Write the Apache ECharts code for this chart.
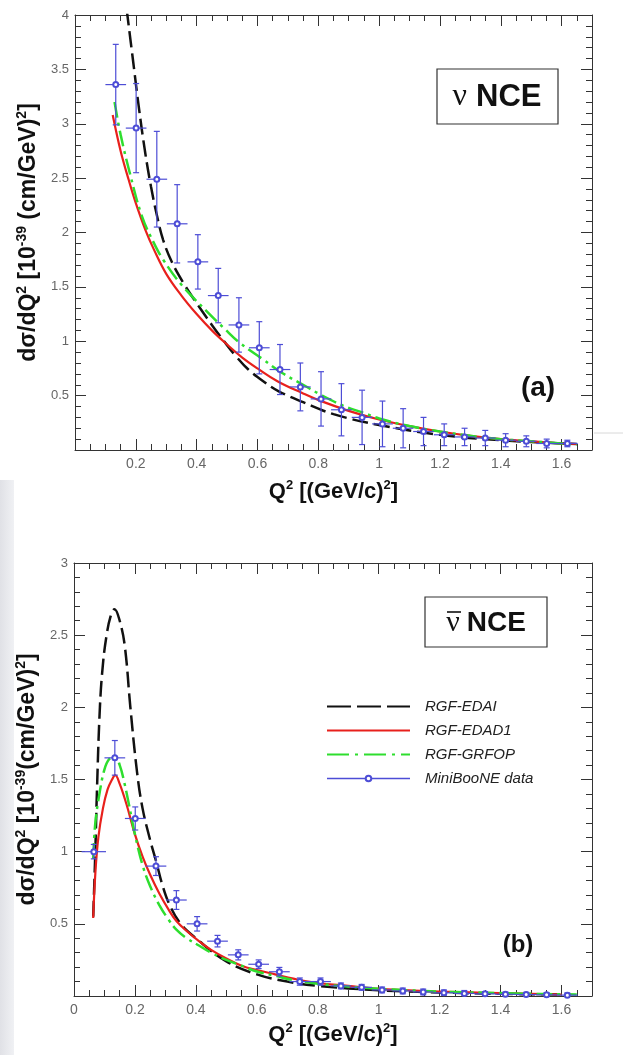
<!DOCTYPE html>
<html lang="en">
<head>
<meta charset="UTF-8">
<title>NCE cross sections</title>
<script src="https://cdn.jsdelivr.net/npm/echarts@6/dist/echarts.min.js"></script>
<style>
    html, body { margin: 0; padding: 0; background: #fff; }
    #chart { width: 623px; height: 1055px; }
</style>
</head>
<body>
<div id="chart"></div>
<script>
    // ---------- (a) neutrino NCE ----------
    var nuQ2   = [0.134, 0.201, 0.269, 0.336, 0.404, 0.471, 0.539, 0.606, 0.674, 0.741, 0.809, 0.876,
                  0.944, 1.011, 1.079, 1.146, 1.214, 1.281, 1.349, 1.416, 1.484, 1.551, 1.619];
    var nuData = [3.36, 2.96, 2.49, 2.08, 1.73, 1.42, 1.15, 0.94, 0.74, 0.58, 0.47, 0.37,
                  0.30, 0.24, 0.20, 0.17, 0.14, 0.12, 0.11, 0.09, 0.08, 0.06, 0.06];
    var nuErr  = [0.37, 0.41, 0.44, 0.36, 0.25, 0.25, 0.25, 0.24, 0.23, 0.22, 0.25, 0.24,
                  0.25, 0.21, 0.18, 0.13, 0.10, 0.08, 0.07, 0.06, 0.05, 0.04, 0.03];
    var nuHalf = [0.034, 0.034, 0.034, 0.034, 0.034, 0.034, 0.034, 0.034, 0.034, 0.034, 0.034, 0.034,
                  0.034, 0.034, 0.034, 0.034, 0.034, 0.034, 0.034, 0.034, 0.034, 0.034, 0.034];

    var nuEdaiQ2  = [0.17, 0.19, 0.21, 0.23, 0.25, 0.27, 0.29, 0.32, 0.36, 0.4, 0.45, 0.49, 0.53, 0.57, 0.62, 0.67, 0.75, 0.85, 1.0, 1.2, 1.4, 1.6, 1.65];
    var nuEdai    = [4.05, 3.6, 3.15, 2.75, 2.42, 2.15, 1.93, 1.72, 1.52, 1.35, 1.15, 1.0, 0.86, 0.74, 0.63, 0.54, 0.44, 0.33, 0.23, 0.14, 0.09, 0.06, 0.055];
    var nuEdad1Q2 = [0.124, 0.15, 0.177, 0.2, 0.232, 0.26, 0.3, 0.35, 0.4, 0.45, 0.5, 0.55, 0.6, 0.667, 0.75, 0.8, 0.9, 1.0, 1.1, 1.2, 1.3, 1.4, 1.5, 1.6, 1.65];
    var nuEdad1   = [3.08, 2.75, 2.48, 2.27, 2.02, 1.84, 1.62, 1.42, 1.25, 1.1, 0.97, 0.85, 0.75, 0.63, 0.52, 0.46, 0.36, 0.28, 0.22, 0.17, 0.13, 0.1, 0.08, 0.06, 0.055];
    var nuGrfopQ2 = [0.13, 0.15, 0.18, 0.22, 0.26, 0.29, 0.35, 0.435, 0.49, 0.54, 0.62, 0.68, 0.75, 0.8, 0.88, 0.95, 1.0, 1.1, 1.2, 1.3, 1.4, 1.5, 1.6, 1.65];
    var nuGrfop   = [3.2, 2.9, 2.55, 2.15, 1.9, 1.75, 1.52, 1.27, 1.12, 0.99, 0.83, 0.71, 0.6, 0.52, 0.41, 0.34, 0.29, 0.22, 0.17, 0.13, 0.1, 0.08, 0.06, 0.05];

    // ---------- (b) antineutrino NCE ----------
    var nbQ2   = [0.065, 0.134, 0.201, 0.269, 0.336, 0.404, 0.471, 0.539, 0.606, 0.674, 0.741, 0.809,
                  0.876, 0.944, 1.011, 1.079, 1.146, 1.214, 1.281, 1.349, 1.416, 1.484, 1.551, 1.619];
    var nbData = [1.0, 1.65, 1.23, 0.9, 0.665, 0.5, 0.38, 0.285, 0.22, 0.168, 0.1, 0.1,
                  0.07, 0.06, 0.042, 0.035, 0.028, 0.022, 0.018, 0.015, 0.012, 0.01, 0.008, 0.006];
    var nbErr  = [0.05, 0.12, 0.08, 0.065, 0.065, 0.05, 0.04, 0.035, 0.03, 0.03, 0.025, 0.025,
                  0.02, 0.02, 0.02, 0.02, 0.02, 0.02, 0.02, 0.015, 0.015, 0.015, 0.015, 0.015];
    var nbHalf = [0.04, 0.034, 0.034, 0.034, 0.034, 0.034, 0.034, 0.034, 0.034, 0.034, 0.034, 0.034,
                  0.034, 0.034, 0.034, 0.034, 0.034, 0.034, 0.034, 0.034, 0.034, 0.034, 0.034, 0.034];

    var nbEdaiQ2  = [0.063, 0.07, 0.075, 0.085, 0.095, 0.107, 0.12, 0.133, 0.15, 0.167, 0.185, 0.207, 0.225, 0.25, 0.27, 0.29, 0.314, 0.35, 0.4, 0.5, 0.6, 0.7, 0.8, 1.0, 1.2, 1.4, 1.6];
    var nbEdai    = [0.55, 1.0, 1.4, 2.0, 2.3, 2.5, 2.63, 2.68, 2.6, 2.42, 2.0, 1.55, 1.3, 1.08, 0.93, 0.77, 0.63, 0.5, 0.4, 0.24, 0.15, 0.1, 0.07, 0.04, 0.025, 0.015, 0.01];
    var nbEdad1Q2 = [0.063, 0.07, 0.08, 0.095, 0.11, 0.125, 0.135, 0.15, 0.172, 0.2, 0.226, 0.25, 0.28, 0.31, 0.336, 0.37, 0.41, 0.45, 0.5, 0.55, 0.6, 0.66, 0.72, 0.8, 0.9, 1.0, 1.1, 1.2, 1.3, 1.4, 1.5, 1.6];
    var nbEdad1   = [0.54, 0.85, 1.1, 1.3, 1.43, 1.5, 1.53, 1.47, 1.33, 1.12, 0.96, 0.84, 0.71, 0.6, 0.52, 0.45, 0.38, 0.32, 0.26, 0.21, 0.18, 0.15, 0.12, 0.09, 0.07, 0.05, 0.04, 0.03, 0.025, 0.02, 0.015, 0.01];
    var nbGrfopQ2 = [0.063, 0.07, 0.085, 0.1, 0.115, 0.134, 0.15, 0.165, 0.18, 0.2, 0.226, 0.25, 0.28, 0.31, 0.336, 0.37, 0.41, 0.45, 0.5, 0.55, 0.6, 0.66, 0.72, 0.8, 0.9, 1.0, 1.1, 1.2, 1.3, 1.4, 1.5, 1.6, 1.65];
    var nbGrfop   = [0.95, 1.2, 1.42, 1.57, 1.64, 1.66, 1.6, 1.48, 1.33, 1.12, 0.9, 0.76, 0.63, 0.53, 0.46, 0.4, 0.35, 0.3, 0.25, 0.21, 0.17, 0.14, 0.11, 0.085, 0.065, 0.05, 0.04, 0.03, 0.025, 0.02, 0.015, 0.012, 0.01];

    var xTicks = { min: 0, max: 1.7, interval: 0.2 };

    var BLACK = '#111111', RED = '#e8201c', GREEN = '#2ede2e', BLUE = '#4d4dd6';
    var FONT = '"Liberation Sans", Arial, sans-serif';

    function pairs(xs, ys) {
        return xs.map(function (x, i) { return [x, ys[i]]; });
    }
    function points(xs, ys, es, hs) {
        return xs.map(function (x, i) { return [x, ys[i], es[i], hs[i]]; });
    }

    function curve(name, xs, ys, color, dash, width, gi) {
        return {
            name: name, type: 'line', xAxisIndex: gi * 2, yAxisIndex: gi * 2,
            data: pairs(xs, ys), symbol: 'none', smooth: 0.4,
            clip: true, z: 3,
            lineStyle: { color: color, width: width, type: dash },
            itemStyle: { color: color }
        };
    }

    function errRender(params, api) {
        var x = api.value(0), y = api.value(1), e = api.value(2), h = api.value(3);
        var c = api.coord([x, y]);
        var t = api.coord([x, y + e]);
        var b = api.coord([x, Math.max(y - e, 0)]);
        var l = api.coord([x - h, y]);
        var r = api.coord([x + h, y]);
        var st = { stroke: BLUE, lineWidth: 1.2 };
        return {
            type: 'group',
            children: [
                { type: 'line', shape: { x1: c[0], y1: t[1], x2: c[0], y2: b[1] }, style: st },
                { type: 'line', shape: { x1: l[0], y1: c[1], x2: r[0], y2: c[1] }, style: st },
                { type: 'line', shape: { x1: c[0] - 3, y1: t[1], x2: c[0] + 3, y2: t[1] }, style: st },
                { type: 'line', shape: { x1: c[0] - 3, y1: b[1], x2: c[0] + 3, y2: b[1] }, style: st }
            ]
        };
    }

    function dataSeries(xs, ys, es, hs, gi) {
        return [{
            type: 'custom', xAxisIndex: gi * 2, yAxisIndex: gi * 2, clip: true, z: 4,
            renderItem: errRender, data: points(xs, ys, es, hs)
        }, {
            name: 'MiniBooNE data', type: 'line', xAxisIndex: gi * 2, yAxisIndex: gi * 2,
            data: pairs(xs, ys), symbol: 'emptyCircle', symbolSize: 5, showSymbol: true,
            lineStyle: { opacity: 0 }, itemStyle: { color: BLUE, borderWidth: 1.2 }, z: 5
        }];
    }

    var tickStyle = { color: '#333', width: 1 };
    var nameRich = {
        m: { fontSize: 23, fontWeight: 'bold', fontFamily: FONT, color: '#111', lineHeight: 26 },
        s: { fontSize: 14, fontWeight: 'bold', fontFamily: FONT, color: '#111', lineHeight: 14, verticalAlign: 'top' }
    };
    var xNameRich = {
        m: { fontSize: 22, fontWeight: 'bold', fontFamily: FONT, color: '#111', lineHeight: 26 },
        s: { fontSize: 13, fontWeight: 'bold', fontFamily: FONT, color: '#111', lineHeight: 14, verticalAlign: 'top' }
    };

    function frameAxis(base) {
        base.axisLine = { show: true, onZero: false, lineStyle: tickStyle };
        base.axisTick = { show: true, inside: true, length: 11, lineStyle: tickStyle };
        base.splitLine = { show: false };
        return base;
    }

    function xAxes(gi, showZero, gap) {
        return [frameAxis({
            type: 'value', gridIndex: gi, position: 'bottom',
            min: xTicks.min, max: xTicks.max, interval: xTicks.interval,
            minorTick: { show: true, splitNumber: 4, length: 6, lineStyle: tickStyle },
            axisLabel: {
                color: '#666', fontSize: 14, fontFamily: FONT, margin: 7, showMaxLabel: false,
                formatter: function (v) { return (v === 0 && !showZero) ? '' : String(+v.toFixed(1)); }
            },
            name: '{m|Q}{s|2}{m| [(GeV/c)}{s|2}{m|]}', nameLocation: 'middle', nameGap: gap,
            nameTextStyle: { rich: xNameRich }
        }), frameAxis({
            type: 'value', gridIndex: gi, position: 'top',
            min: xTicks.min, max: xTicks.max, interval: xTicks.interval,
            minorTick: { show: true, splitNumber: 4, length: 6, lineStyle: tickStyle },
            axisLabel: { show: false }
        })];
    }

    function yAxes(gi, max, name) {
        return [frameAxis({
            type: 'value', gridIndex: gi, position: 'left', min: 0, max: max, interval: 0.5,
            minorTick: { show: true, splitNumber: 5, length: 6, lineStyle: tickStyle },
            axisLabel: {
                color: '#666', fontSize: 13, fontFamily: FONT, margin: 6,
                formatter: function (v) { return v === 0 ? '' : String(v); }
            },
            name: name, nameLocation: 'middle', nameGap: 26,
            nameTextStyle: { rich: nameRich }
        }), frameAxis({
            type: 'value', gridIndex: gi, position: 'right', min: 0, max: max, interval: 0.5,
            minorTick: { show: true, splitNumber: 5, length: 6, lineStyle: tickStyle },
            axisLabel: { show: false }
        })];
    }

    var series = [].concat(
        curve('RGF-EDAI', nuEdaiQ2, nuEdai, BLACK, [16, 6], 2.5, 0),
        curve('RGF-EDAD1', nuEdad1Q2, nuEdad1, RED, 'solid', 2.2, 0),
        curve('RGF-GRFOP', nuGrfopQ2, nuGrfop, GREEN, [16, 5, 3, 5], 2.5, 0),
        dataSeries(nuQ2, nuData, nuErr, nuHalf, 0),
        curve('RGF-EDAI', nbEdaiQ2, nbEdai, BLACK, [16, 6], 2.5, 1),
        curve('RGF-EDAD1', nbEdad1Q2, nbEdad1, RED, 'solid', 2.2, 1),
        curve('RGF-GRFOP', nbGrfopQ2, nbGrfop, GREEN, [16, 5, 3, 5], 2.5, 1),
        dataSeries(nbQ2, nbData, nbErr, nbHalf, 1)
    );

    var legendText = { fontSize: 15, fontStyle: 'italic', fontFamily: FONT, color: '#222', padding: [0, 0, 0, 10] };
    var noMark = { opacity: 0 };

    var chart = echarts.init(document.getElementById('chart'), null, { renderer: 'canvas' });
    chart.setOption({
        backgroundColor: '#ffffff',
        animation: false,
        grid: [
            { left: 75, top: 15, width: 517, height: 435 },
            { left: 74, top: 563, width: 518, height: 433 }
        ],
        xAxis: xAxes(0, false, 29).concat(xAxes(1, true, 26)),
        yAxis: yAxes(0, 4, '{m|dσ/dQ}{s|2}{m| [10}{s|-39}{m| (cm/GeV)}{s|2}{m|]}')
            .concat(yAxes(1, 3, '{m|dσ/dQ}{s|2}{m| [10}{s|-39}{m|(cm/GeV)}{s|2}{m|]}')),
        legend: {
            orient: 'vertical', left: 326, top: 699, padding: 0,
            itemWidth: 83, itemHeight: 7, itemGap: 9,
            textStyle: legendText, selectedMode: false,
            data: [
                { name: 'RGF-EDAI', lineStyle: { type: [24, 6] }, itemStyle: noMark },
                { name: 'RGF-EDAD1', itemStyle: noMark },
                { name: 'RGF-GRFOP', lineStyle: { type: [22, 6, 3, 6] }, itemStyle: noMark },
                { name: 'MiniBooNE data', lineStyle: { opacity: 1, width: 1.5, color: BLUE } }
            ]
        },
        graphic: [
            {
                type: 'rect', left: 0, top: 480, z: -10,
                shape: { width: 14, height: 575 },
                style: { fill: new echarts.graphic.LinearGradient(0, 0, 1, 0, [
                    { offset: 0, color: '#e0e1e6' }, { offset: 1, color: '#f0f1f4' }]) }
            },
            {
                type: 'line', z: -10,
                shape: { x1: 594, y1: 433, x2: 623, y2: 433 },
                style: { stroke: '#d8d8d8', lineWidth: 1 }
            },
            {
                type: 'rect', z: 10,
                shape: { x: 437, y: 69, width: 121, height: 55 },
                style: { fill: '#fff', stroke: '#333', lineWidth: 1.2 }
            },
            {
                type: 'text', z: 11,
                style: {
                    x: 497, y: 97, align: 'center', verticalAlign: 'middle',
                    text: '{n|ν}{b|NCE}',
                    rich: {
                        n: { fontSize: 32, fontFamily: '"Liberation Serif", serif', fill: '#111', padding: [0, 9, 0, 0] },
                        b: { fontSize: 31, fontWeight: 'bold', fontFamily: FONT, fill: '#111' }
                    }
                }
            },
            {
                type: 'rect', z: 10,
                shape: { x: 425, y: 597, width: 122, height: 50 },
                style: { fill: '#fff', stroke: '#333', lineWidth: 1.2 }
            },
            {
                type: 'text', z: 11,
                style: {
                    x: 486, y: 623, align: 'center', verticalAlign: 'middle',
                    text: '{n|ν}{b|NCE}',
                    rich: {
                        n: { fontSize: 30, fontFamily: '"Liberation Serif", serif', fill: '#111', padding: [0, 7, 0, 0] },
                        b: { fontSize: 28, fontWeight: 'bold', fontFamily: FONT, fill: '#111' }
                    }
                }
            },
            {
                // bar over the nu
                type: 'line', z: 12,
                shape: { x1: 447, y1: 612, x2: 461, y2: 612 },
                style: { stroke: '#111', lineWidth: 1.6 }
            },
            {
                type: 'text', z: 11,
                style: { x: 538, y: 388, align: 'center', verticalAlign: 'middle', text: '(a)',
                         font: 'bold 28px ' + FONT, fill: '#111' }
            },
            {
                type: 'text', z: 11,
                style: { x: 518, y: 945, align: 'center', verticalAlign: 'middle', text: '(b)',
                         font: 'bold 24px ' + FONT, fill: '#111' }
            }
        ],
        series: series
    });
</script>
</body>
</html>
